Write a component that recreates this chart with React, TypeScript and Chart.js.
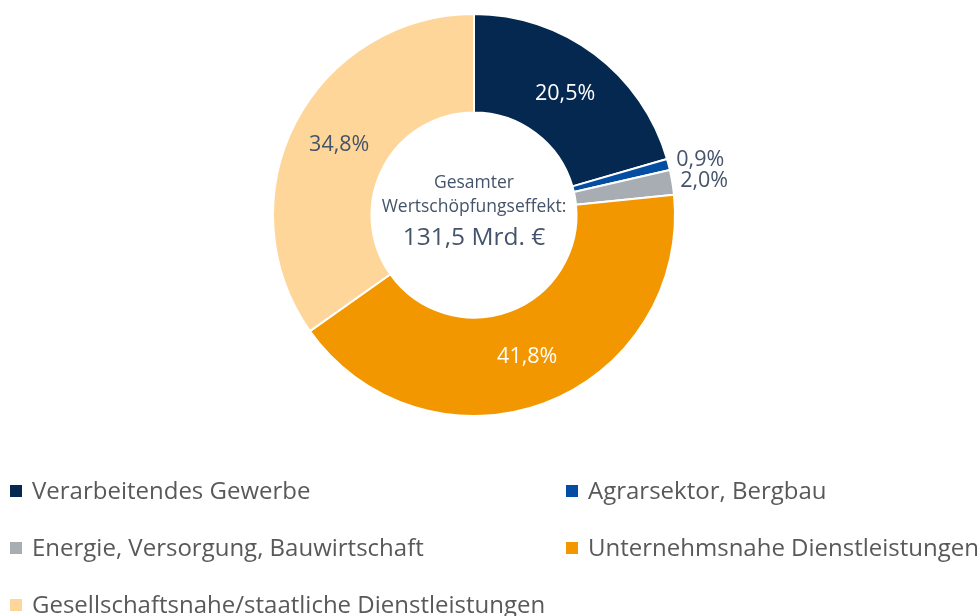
import React, { useEffect, useRef } from "react";
import { Chart, registerables } from "chart.js";

Chart.register(...registerables);

const categories = [
  "Verarbeitendes Gewerbe",
  "Agrarsektor, Bergbau",
  "Energie, Versorgung, Bauwirtschaft",
  "Unternehmsnahe Dienstleistungen",
  "Gesellschaftsnahe/staatliche Dienstleistungen",
];
const shares = [20.5, 0.9, 2.0, 41.8, 34.8];
const sliceColors = ["#04284F", "#034EA2", "#A7ADB3", "#F39700", "#FFD699"];
const labelColors = ["#FFFFFF", "#44546A", "#44546A", "#FFFFFF", "#44546A"];
const centerLines = ["Gesamter", "Wertschöpfungseffekt:", "131,5 Mrd. €"];

const FONT = "'Open Sans', sans-serif";
const fmt = (v: number) => v.toFixed(1).replace(".", ",") + "%";

const overlay = {
  id: "overlay",
  afterDraw(chart: any) {
    const ctx = chart.ctx as CanvasRenderingContext2D;
    const meta = chart.getDatasetMeta(0);
    ctx.save();
    // slice labels
    meta.data.forEach((arc: any, i: number) => {
      const v = shares[i];
      ctx.font = `21.5px ${FONT}`;
      ctx.fillStyle = labelColors[i];
      ctx.textBaseline = "middle";
      if (v < 5) {
        const mid = (arc.startAngle + arc.endAngle) / 2;
        const r = arc.outerRadius + 8;
        const x = arc.x + Math.cos(mid) * r;
        const y = arc.y + Math.sin(mid) * r - (i === 1 ? 3 : 0);
        ctx.textAlign = "left";
        ctx.fillText(fmt(v), x, y);
      } else {
        const p = arc.tooltipPosition();
        ctx.textAlign = "center";
        ctx.fillText(fmt(v), p.x, p.y);
      }
    });
    // center text
    const a0 = meta.data[0];
    ctx.fillStyle = "#44546A";
    ctx.textAlign = "center";
    ctx.font = `17.5px ${FONT}`;
    ctx.fillText(centerLines[0], a0.x, a0.y - 32);
    ctx.fillText(centerLines[1], a0.x, a0.y - 8);
    ctx.font = `24.5px ${FONT}`;
    ctx.fillText(centerLines[2], a0.x, a0.y + 23);
    // legend
    ctx.font = `24px ${FONT}`;
    ctx.textAlign = "left";
    const cols = [10, 566];
    const rows = [491, 548, 605];
    categories.forEach((c, i) => {
      const x = cols[i % 2];
      const y = rows[Math.floor(i / 2)];
      ctx.fillStyle = sliceColors[i];
      ctx.fillRect(x, y - 6, 12, 12);
      ctx.fillStyle = "#595959";
      ctx.fillText(c, x + 22, y + 1);
    });
    ctx.restore();
  },
};

export default function App() {
  const ref = useRef<HTMLCanvasElement>(null);
  useEffect(() => {
    const chart = new Chart(ref.current!, {
      type: "doughnut",
      data: {
        labels: categories,
        datasets: [
          {
            data: shares,
            backgroundColor: sliceColors,
            borderColor: "#FFFFFF",
            borderWidth: 2,
          },
        ],
      },
      options: {
        animation: false,
        responsive: false,
        cutout: "51%",
        layout: { padding: { top: 13, bottom: 199, left: 272, right: 303 } },
        plugins: { legend: { display: false }, tooltip: { enabled: false } },
      },
      plugins: [overlay],
    });
    return () => chart.destroy();
  }, []);
  return (
    <div style={{ position: "fixed", left: 0, top: 0, width: 979, height: 616, background: "#fff" }}>
      <canvas ref={ref} width={979} height={616} style={{ width: 979, height: 616 }} />
    </div>
  );
}
